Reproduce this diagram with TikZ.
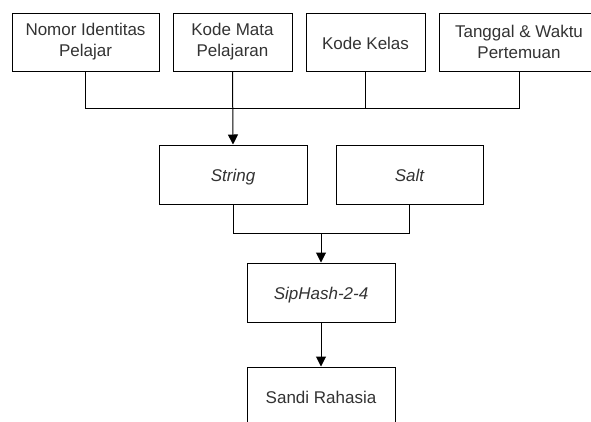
\documentclass[tikz,border=0pt]{standalone}
\usepackage{fontspec}
\setmainfont{Liberation Sans}
\usetikzlibrary{arrows.meta}
\definecolor{txt}{HTML}{333333}
\begin{document}
\begin{tikzpicture}[x=1pt,y=-1pt,
  box/.style={draw=black,line width=1pt,fill=white,inner sep=0pt,align=center,
    text=txt,font=\fontsize{17}{21}\selectfont,minimum height=58pt},
  single/.style={box,text height=14pt,text depth=0pt,minimum height=59pt},
  link/.style={draw=black,line width=1pt},
  arr/.style={link,-{Triangle[width=10pt,length=10pt]}}]
\useasboundingbox (0,0) rectangle (591,421);
\clip (0,0) rectangle (591,421);
\fill[white] (0,0) rectangle (591,421);
\node[box,minimum width=147pt] (n1) at (85.5,42) {Nomor Identitas\\Pelajar};
\node[box,minimum width=119pt] (n2) at (232.5,42) {Kode Mata\\Pelajaran};
\node[single,minimum width=119pt,minimum height=58pt] (n3) at (365.5,42) {Kode Kelas};
\node[box,minimum width=160pt] (n4) at (519,42) {Tanggal \& Waktu\\Pertemuan};
\node[single,minimum width=148pt] (str) at (233,174.5) {\itshape String};
\node[single,minimum width=147pt] (salt) at (409.5,174.5) {\itshape Salt};
\node[single,minimum width=148pt] (sip) at (321,292.5) {\itshape SipHash-2-4};
\node[single,minimum width=148pt] (sandi) at (321,396.5) {Sandi Rahasia};
\coordinate (bus) at (233,108);
\coordinate (bus2) at (321,233);
\draw[link] (n1.south) |- (bus);
\draw[link] (n4.south) |- (bus);
\draw[link] (n3.south) -- (n3.south |- bus);
\draw[arr] (n2.south) -- (str.north);
\draw[link] (str.south) |- (bus2);
\draw[link] (salt.south) |- (bus2);
\draw[arr] (bus2) -- (sip.north);
\draw[arr] (sip.south) -- (sandi.north);
\end{tikzpicture}
\end{document}
